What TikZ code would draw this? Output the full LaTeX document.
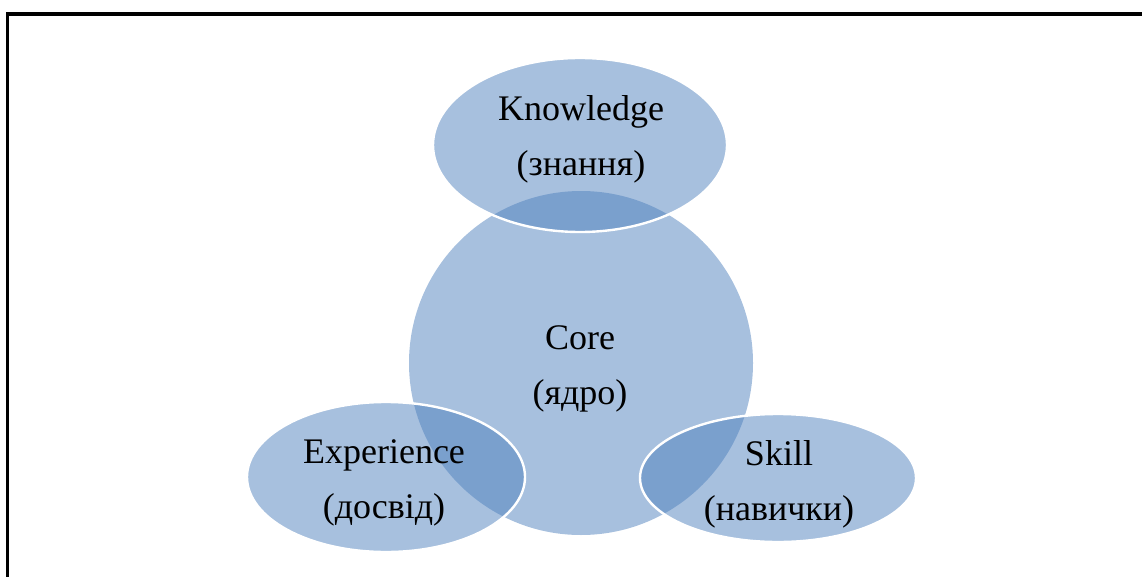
\documentclass[tikz,border=0pt]{standalone}
\usepackage{fontspec}
\setmainfont{Liberation Serif}
\usepackage{xcolor}
\definecolor{accentblue}{HTML}{4F81BD}

\begin{document}
\begin{tikzpicture}[x=0.025cm,y=-0.025cm,
  blob/.style={fill=accentblue,fill opacity=0.5},
  rim/.style={draw=white,line width=1.7pt},
  every node/.style={font=\fontsize{25.6}{39}\selectfont,align=center,text=black}]
\useasboundingbox (0,0) rectangle (1142,577);
\draw[line width=2.4pt] (7.5,577) |- (1142,14);
\path[blob] (581,363) circle [radius=172];
\path[blob,rim] (580,145) ellipse [x radius=147,y radius=87];
\path[blob,rim] (386,477) ellipse [x radius=139,y radius=75];
\path[blob,rim] (778,478) ellipse [x radius=138,y radius=64];
\node (knowledge) at (581,139) {Knowledge\\(знання)};
\node (core) at (580,369) {Core\\(ядро)};
\node (experience) at (384,483) {Experience\\(досвід)};
\node (skill) at (779,484) {Skill\\(навички)};
\end{tikzpicture}
\end{document}
